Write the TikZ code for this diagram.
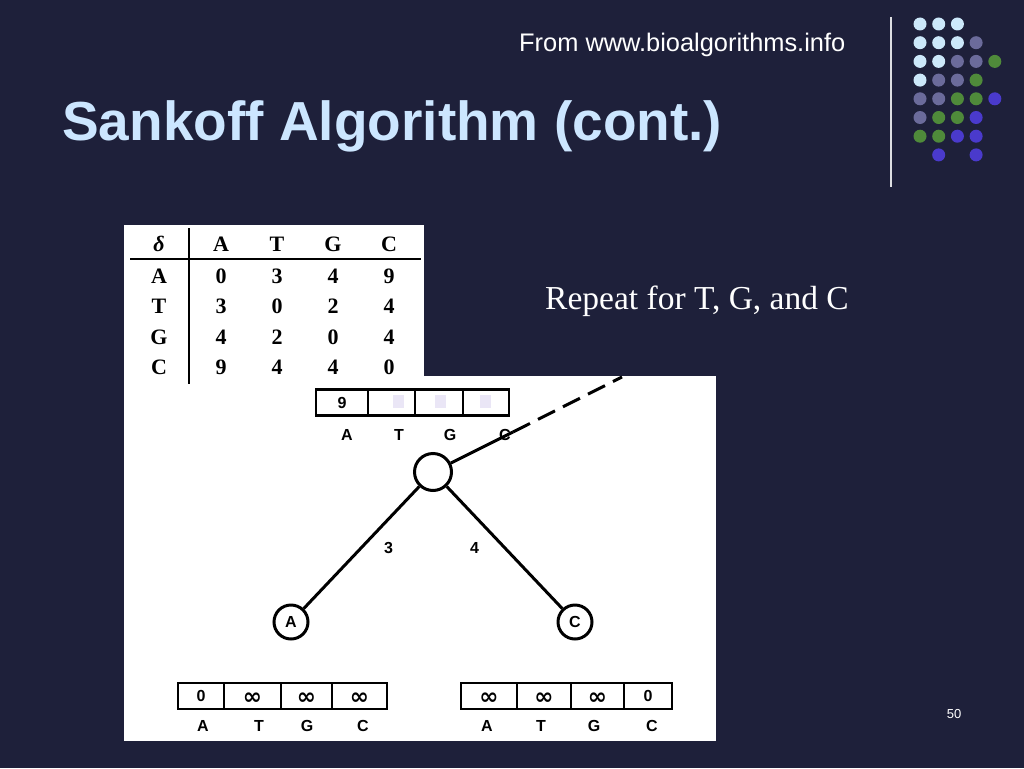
\documentclass[tikz,border=0pt]{standalone}
\usepackage{fontspec}
\setmainfont{Liberation Sans}
\newfontfamily\serifx{Liberation Serif}
\newfontfamily\dejavu{DejaVu Sans}
\definecolor{bgnavy}{RGB}{30,32,58}
\definecolor{titleblue}{RGB}{204,230,255}
\definecolor{dotlight}{RGB}{204,232,250}
\definecolor{dotpurple}{RGB}{107,107,155}
\definecolor{dotgreen}{RGB}{79,138,58}
\definecolor{dotblue}{RGB}{74,58,204}
\definecolor{faintlav}{RGB}{234,230,246}
\newcommand{\infsym}{\raisebox{-3pt}[11pt][0pt]{\dejavu\bfseries\fontsize{23}{23}\selectfont ∞}}
\begin{document}
\begin{tikzpicture}[x=1pt,y=-1pt,
  tabtxt/.style={font=\serifx\bfseries\fontsize{22}{22}\selectfont, inner sep=0pt, anchor=center},
  cellbox/.style={draw=black, line width=2.8pt, inner sep=0pt, minimum height=26pt, font=\bfseries\fontsize{16}{16}\selectfont},
  lbl/.style={font=\bfseries\fontsize{16}{16}\selectfont, inner sep=0pt},
  treenode/.style={circle, draw=black, line width=3pt, inner sep=0pt, fill=white, font=\bfseries\fontsize{16}{16}\selectfont},
  treeedge/.style={line width=3pt, black},
  dotd/.style={circle, inner sep=0pt, minimum size=13pt}
]
% background
\fill[bgnavy] (0,0) rectangle (1024,768);
\useasboundingbox (0,0) rectangle (1024,768);

% header texts
\node[anchor=base west, inner sep=0pt, text=white, font=\fontsize{25.4}{25.4}\selectfont] (src) at (519,52) {From www.bioalgorithms.info};
\node[anchor=base west, inner sep=0pt, text=titleblue, font=\bfseries\fontsize{55}{55}\selectfont] (title) at (62,140) {Sankoff Algorithm (cont.)};
\node[anchor=base west, inner sep=0pt, text=white, font=\serifx\fontsize{33.5}{33.5}\selectfont] (repeat) at (545,309) {Repeat for T, G, and C};
\node[anchor=base, inner sep=0pt, text=white, font=\fontsize{13}{13}\selectfont] (pnum) at (954,718) {50};

% vertical rule and dots
\draw[line width=1.5pt, color=white!85!bgnavy] (891,17) -- (891,187);
\foreach \c/\r/\col in {
  0/0/dotlight,1/0/dotlight,2/0/dotlight,
  0/1/dotlight,1/1/dotlight,2/1/dotlight,3/1/dotpurple,
  0/2/dotlight,1/2/dotlight,2/2/dotpurple,3/2/dotpurple,4/2/dotgreen,
  0/3/dotlight,1/3/dotpurple,2/3/dotpurple,3/3/dotgreen,
  0/4/dotpurple,1/4/dotpurple,2/4/dotgreen,3/4/dotgreen,4/4/dotblue,
  0/5/dotpurple,1/5/dotgreen,2/5/dotgreen,3/5/dotblue,
  0/6/dotgreen,1/6/dotgreen,2/6/dotblue,3/6/dotblue,
  1/7/dotblue,3/7/dotblue}{
  \node[dotd, fill=\col] (dot-\r-\c) at ({920+18.7*\c},{24+18.7*\r}) {};
}

% white image areas
\fill[white] (124,225) rectangle (424,384);
\fill[white] (124,376) rectangle (716,741);

% cost table
\draw[line width=2pt] (189,228) -- (189,384);
\draw[line width=2.8pt] (130,259) -- (421,259);
\node[tabtxt] (h0) at (159,244) {\itshape δ};
\foreach \l [count=\i] in {A,T,G,C}{
  \node[tabtxt] (h\i) at ({221+56*(\i-1)},244) {\l};
}
\foreach \l/\vals [count=\r] in {A/{0,3,4,9},T/{3,0,2,4},G/{4,2,0,4},C/{9,4,4,0}}{
  \node[tabtxt] (rl\r) at (159,{276+30.5*(\r-1)}) {\l};
  \foreach \v [count=\c] in \vals {
    \node[tabtxt] (t-\r-\c) at ({221+56*(\c-1)},{276+30.5*(\r-1)}) {\v};
  }
}

% top array
\node[cellbox, minimum width=52pt] (ta1) at (342,402.5) {9};
\node[cellbox, minimum width=47pt] (ta2) at (391.5,402.5) {};
\node[cellbox, minimum width=48pt] (ta3) at (439,402.5) {};
\node[cellbox, minimum width=46pt] (ta4) at (486,402.5) {};
\fill[faintlav] (393,395) rectangle (404,408);
\fill[faintlav] (435,395) rectangle (446,408);
\fill[faintlav] (480,395) rectangle (491,408);
\node[lbl] (tl1) at (347,435) {A};
\node[lbl] (tl2) at (399,435) {T};
\node[lbl] (tl3) at (450,435) {G};
\node[lbl] (tl4) at (505,435) {C};

% tree
\node[treenode, minimum size=37pt] (root) at (433,472) {};
\node[treenode, minimum size=34pt] (leafA) at (291,622) {A};
\node[treenode, minimum size=34pt] (leafC) at (575,622) {C};
\coordinate (mid) at (513,432);
\coordinate (far) at (622,377);
\draw[treeedge] (root) -- (mid);
\draw[treeedge, dash pattern=on 19pt off 9pt] (mid) -- (far);
\draw[treeedge] (root) -- (leafA) node[lbl, pos=0.5, xshift=27pt] (e3) {3};
\draw[treeedge] (root) -- (leafC) node[lbl, pos=0.5, xshift=-30pt] (e4) {4};

% bottom left array
\node[cellbox, minimum width=46pt] (la1) at (201,696) {0};
\node[cellbox, minimum width=57pt] (la2) at (252.5,696) {\infsym};
\node[cellbox, minimum width=51pt] (la3) at (306.5,696) {\infsym};
\node[cellbox, minimum width=55pt] (la4) at (359.5,696) {\infsym};
\node[lbl] (ll1) at (203,726) {A};
\node[lbl] (ll2) at (259,726) {T};
\node[lbl] (ll3) at (307,726) {G};
\node[lbl] (ll4) at (363,726) {C};

% bottom right array
\node[cellbox, minimum width=56pt] (ra1) at (489,696) {\infsym};
\node[cellbox, minimum width=54pt] (ra2) at (544,696) {\infsym};
\node[cellbox, minimum width=53pt] (ra3) at (597.5,696) {\infsym};
\node[cellbox, minimum width=48pt] (ra4) at (648,696) {0};
\node[lbl] (rl1) at (487,726) {A};
\node[lbl] (rl2) at (541,726) {T};
\node[lbl] (rl3) at (594,726) {G};
\node[lbl] (rl4) at (652,726) {C};
\end{tikzpicture}
\end{document}
